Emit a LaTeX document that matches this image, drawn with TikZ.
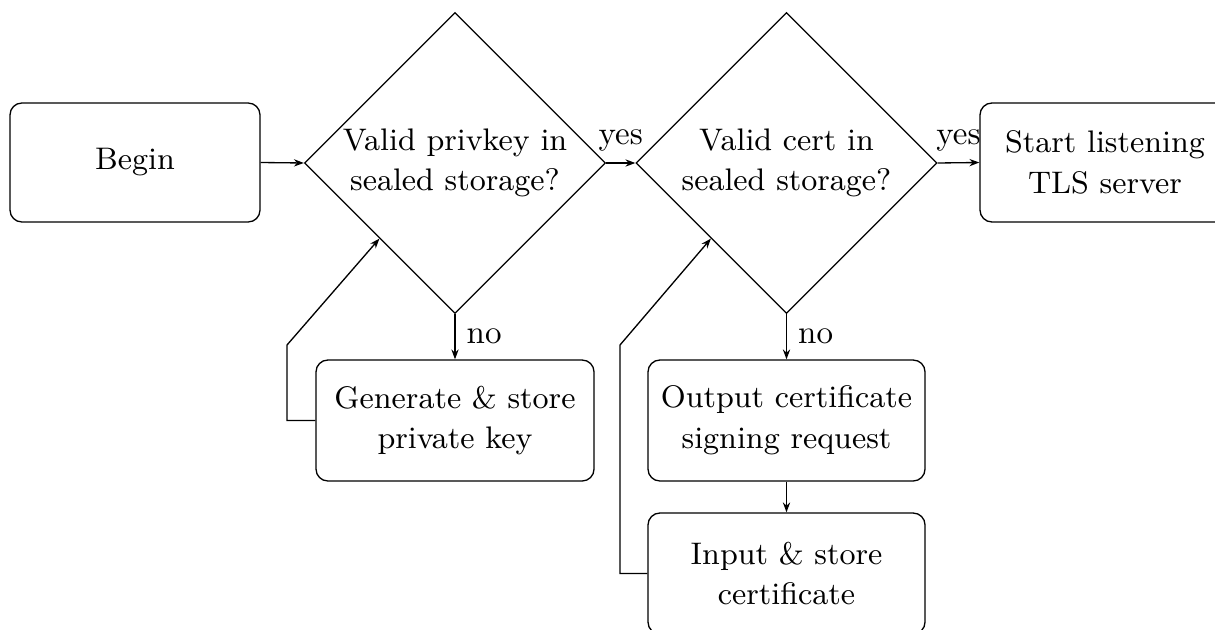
\documentclass[tikz,border=0pt]{standalone}
\usetikzlibrary{shapes.geometric,arrows.meta}
\newlength\pxu
\setlength\pxu{0.303pt}
\begin{document}
\begin{tikzpicture}[x=\pxu,y=-\pxu,
  nodefont/.style={font=\fontsize{9.45pt}{12.3pt}\selectfont},
  box/.style={draw,rounded corners=3.6pt,align=center,inner sep=0pt,nodefont},
  dec/.style={draw,diamond,aspect=1,minimum width=301\pxu,minimum height=301\pxu,inner sep=0pt,align=center,nodefont},
  arr/.style={-{Stealth[length=3pt,width=2.2pt]}},
  lbl/.style={font=\fontsize{10pt}{12pt}\selectfont}]
\useasboundingbox (0,0) rectangle (1215,629);
\node[box,minimum width=250\pxu,minimum height=119\pxu] (begin) at (135,162.5) {Begin};
\node[dec] (d1) at (455,163) {Valid privkey in\\sealed storage?};
\node[dec] (d2) at (786.5,163) {Valid cert in\\sealed storage?};
\node[box,minimum width=250\pxu,minimum height=119\pxu] (start) at (1105,162.5) {Start listening\\TLS server};
\node[box,minimum width=278\pxu,minimum height=121\pxu] (gen) at (455,420.5) {Generate \& store\\private key};
\node[box,minimum width=277\pxu,minimum height=121\pxu] (out) at (786.5,420.5) {Output certificate\\signing request};
\node[box,minimum width=277\pxu,minimum height=121\pxu] (inp) at (786.5,573.5) {Input \& store\\certificate};
\coordinate (g1) at (287,421);
\coordinate (g2) at (287,345);
\coordinate (i1) at (620,572);
\coordinate (i2) at (620,345);
\draw[arr] (begin.east) -- (d1.west);
\draw[arr] (d1.east) -- node[lbl,above] {yes} (d2.west);
\draw[arr] (d2.east) -- node[lbl,above] {yes} (start.west);
\draw[arr] (d1.south) -- node[lbl,right] {no} (gen.north);
\draw[arr] (d2.south) -- node[lbl,right] {no} (out.north);
\draw[arr] (out.south) -- (inp.north);
\draw[arr] (gen.west) -- (gen.west -| g1) -- (g2) -- (d1.south west);
\draw[arr] (inp.west) -- (inp.west -| i1) -- (i2) -- (d2.south west);
\end{tikzpicture}
\end{document}
